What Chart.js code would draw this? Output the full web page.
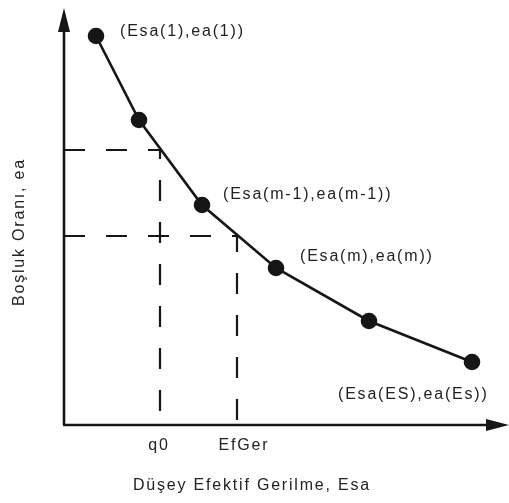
<!DOCTYPE html>
<html>
<head>
<meta charset="utf-8">
<script src="https://cdn.jsdelivr.net/npm/chart.js@4"></script>
<style>
  html, body { margin: 0; padding: 0; background: #fff; }
  #wrap { width: 509px; height: 503px; }
</style>
</head>
<body>
<div id="wrap"><canvas id="c" width="509" height="503"></canvas></div>
<script>
// Compression curve: effective stress (x) vs void ratio (y), arbitrary units
const stress = [32, 75, 138, 212, 305, 408];
const voidRatio = [389, 305, 220, 157, 104, 63];
const pointLabels = ['(Esa(1),ea(1))', '', '(Esa(m-1),ea(m-1))', '(Esa(m),ea(m))', '', '(Esa(ES),ea(Es))'];
// Guide stresses marked on the horizontal axis and the matching void ratios
const tickValues = [96, 173];
const tickLabels = ['q0', 'EfGer'];
const guideRatios = [275, 189];
const xTitle = 'Düşey Efektif Gerilme, Esa';
const yTitle = 'Boşluk Oranı, ea';

const FONT = '"Liberation Sans", Arial, sans-serif';
const INK = '#161616';

const curve = stress.map((x, i) => ({ x, y: voidRatio[i] }));
const guideSets = tickValues.map((x, i) => ({
  data: [{ x: 0, y: guideRatios[i] }, { x, y: guideRatios[i] }, { x, y: 0 }],
  borderColor: INK,
  borderWidth: 2.2,
  borderDash: [21, 21],
  pointRadius: 0,
  fill: false,
  order: 2
}));

const axesPlugin = {
  id: 'axesPlugin',
  afterDatasetsDraw(chart) {
    const { ctx, scales: { x, y } } = chart;
    const x0 = x.getPixelForValue(0), y0 = y.getPixelForValue(0);
    const yTop = y.getPixelForValue(y.max), xEnd = x.getPixelForValue(x.max);
    ctx.save();
    ctx.strokeStyle = INK;
    ctx.fillStyle = INK;
    ctx.lineWidth = 2.6;
    // axes
    ctx.beginPath();
    ctx.moveTo(x0, y0);
    ctx.lineTo(x0, yTop + 14);
    ctx.moveTo(x0 - 1, y0);
    ctx.lineTo(xEnd - 14, y0);
    ctx.stroke();
    // arrow heads
    ctx.beginPath();
    ctx.moveTo(x0, yTop - 2);
    ctx.lineTo(x0 - 6, yTop + 22);
    ctx.lineTo(x0 + 6, yTop + 22);
    ctx.closePath();
    ctx.fill();
    ctx.beginPath();
    ctx.moveTo(xEnd + 1, y0);
    ctx.lineTo(xEnd - 22, y0 - 6);
    ctx.lineTo(xEnd - 22, y0 + 6);
    ctx.closePath();
    ctx.fill();

    ctx.font = '16px ' + FONT;
    ctx.letterSpacing = '1.8px';
    ctx.fillStyle = '#222';
    // axis tick labels
    ctx.textAlign = 'center';
    ctx.textBaseline = 'middle';
    const tickShift = [-1, 7];
    tickValues.forEach((v, i) => {
      ctx.fillText(tickLabels[i], x.getPixelForValue(v) + tickShift[i], y0 + 21);
    });
    // point labels
    ctx.textAlign = 'left';
    const offs = [[24, -4], [0, 0], [21, -10], [24, -11], [0, 0], [-134, 33]];
    curve.forEach((p, i) => {
      if (!pointLabels[i]) return;
      ctx.fillText(pointLabels[i], x.getPixelForValue(p.x) + offs[i][0], y.getPixelForValue(p.y) + offs[i][1]);
    });
    // axis titles
    ctx.textAlign = 'center';
    ctx.fillText(xTitle, 252, y0 + 61);
    ctx.translate(20, 232);
    ctx.rotate(-Math.PI / 2);
    ctx.fillText(yTitle, 0, 0);
    ctx.restore();
  }
};

new Chart(document.getElementById('c'), {
  type: 'line',
  data: {
    datasets: [{
      data: curve,
      borderColor: INK,
      borderWidth: 2.6,
      pointRadius: 7,
      pointHoverRadius: 7,
      pointBackgroundColor: INK,
      pointBorderColor: INK,
      fill: false,
      order: 1
    }, ...guideSets]
  },
  options: {
    responsive: false,
    animation: false,
    events: [],
    layout: { autoPadding: false, padding: { left: 64, right: 1, top: 10, bottom: 78 } },
    plugins: { legend: { display: false }, tooltip: { enabled: false } },
    scales: {
      x: { type: 'linear', min: 0, max: 444, display: false },
      y: { type: 'linear', min: 0, max: 415, display: false }
    }
  },
  plugins: [axesPlugin]
});
</script>
</body>
</html>
